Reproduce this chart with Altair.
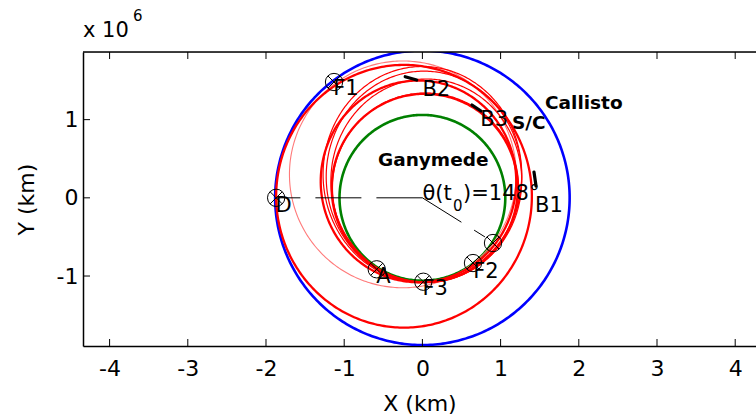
import altair as alt
import numpy as np
import pandas as pd

# ---------------- data (units: 1e6 km) ----------------
x_ticks = [-4, -3, -2, -1, 0, 1, 2, 3, 4]
y_ticks = [-1, 0, 1]
x_domain = [-4.34, 4.266]
y_domain = [-1.895, 1.865]

callisto_r = 1.883
ganymede_r = 1.06

# trajectory loops: centre and semi-axes
traj_cx = [-0.235, 0.00, 0.02, -0.05, 0.03, 0.04, 0.05, -0.25]
traj_cy = [0.02, 0.30, 0.27, 0.21, 0.125, 0.13, 0.22, 0.30]
traj_a = [1.635, 1.27, 1.25, 1.25, 1.19, 1.19, 1.22, 1.45]
traj_b = [1.68, 1.38, 1.35, 1.29, 1.205, 1.21, 1.30, 1.45]
traj_kind = ["thick", "thin", "thin", "thick", "thick", "thin", "thin", "light"]

# event markers
mk_x = [-1.13, -1.87, -0.584, 0.012, 0.647, 0.903]
mk_y = [1.481, 0.0, -0.914, -1.073, -0.834, -0.578]

# labels
lab_text = ["F1", "B2", "B3", "B1", "D", "A", "F3", "F2"]
lab_x = [-1.14, 0.0, 0.74, 1.44, -1.88, -0.59, 0.0, 0.65]
lab_y = [1.39, 1.38, 0.995, -0.105, -0.105, -1.013, -1.166, -0.949]

bold_text = ["Callisto", "Ganymede", "S/C"]
bold_x = [1.568, -0.568, 1.146]
bold_y = [1.212, 0.483, 0.963]

theta_text = ["θ(t", ")=148°"]
theta_x = [0.0, 0.52]
theta_y = [0.05, 0.05]
theta_sub = ["0"]
theta_sub_x = [0.39]
theta_sub_y = [-0.105]

# black coast arcs B1, B2, B3
arc_id = ["B2", "B2", "B3", "B3", "B1", "B1"]
arc_x = [-0.22, -0.073, 0.634, 0.749, 1.427, 1.453]
arc_y = [1.549, 1.506, 1.187, 1.110, 0.330, 0.151]

# dashed reference lines (origin -> D, origin -> theta direction)
ref_id = ["D", "D", "T", "T"]
ref_x = [0.0, -1.87, 0.0, 0.80]
ref_y = [0.0, 0.0, 0.0, -0.50]

# ---------------- tables ----------------
t = np.linspace(0, 2 * np.pi, 361)


def circle(r, name):
    return pd.DataFrame({"x": r * np.cos(t), "y": r * np.sin(t), "curve": name, "i": np.arange(len(t))})


blue_df = circle(callisto_r, "callisto")
green_df = circle(ganymede_r, "ganymede")

rows = []
for k in range(len(traj_cx)):
    rows.append(pd.DataFrame({
        "x": traj_cx[k] + traj_a[k] * np.cos(t),
        "y": traj_cy[k] + traj_b[k] * np.sin(t),
        "curve": f"c{k}", "kind": traj_kind[k], "i": np.arange(len(t))}))
traj_df = pd.concat(rows, ignore_index=True)

mk_df = pd.DataFrame({"x": mk_x, "y": mk_y})
lab_df = pd.DataFrame({"x": lab_x, "y": lab_y, "t": lab_text})
bold_df = pd.DataFrame({"x": bold_x, "y": bold_y, "t": bold_text})
theta_df = pd.DataFrame({"x": theta_x, "y": theta_y, "t": theta_text})
theta_sub_df = pd.DataFrame({"x": theta_sub_x, "y": theta_sub_y, "t": theta_sub})
arc_df = pd.DataFrame({"x": arc_x, "y": arc_y, "id": arc_id, "i": list(range(len(arc_x)))})
ref_df = pd.DataFrame({"x": ref_x, "y": ref_y, "id": ref_id, "i": list(range(len(ref_x)))})
xt_df = pd.DataFrame({"x": x_ticks * 2, "y": [y_domain[1]] * len(x_ticks) + [y_domain[0]] * len(x_ticks)})
yt_df = pd.DataFrame({"x": [x_domain[0]] * len(y_ticks), "y": y_ticks})

FONT = "DejaVu Sans"
xs = alt.Scale(domain=x_domain, nice=False, zero=False)
ys = alt.Scale(domain=y_domain, nice=False, zero=False)

x_axis = alt.Axis(values=x_ticks, tickSize=0, labelPadding=12, labelFontSize=22, labelFont=FONT,
                  labelColor="black", domainColor="black", domainWidth=1.5, grid=False,
                  labelExpr="'' + datum.value",
                  title="X (km)", titleFont=FONT, titleFontSize=22, titleFontWeight="normal",
                  titleColor="black", titleY=57, titleBaseline="middle", labelFlush=False)
y_axis = alt.Axis(values=y_ticks, tickSize=0, labelPadding=5, labelFontSize=22, labelFont=FONT,
                  labelColor="black", domainColor="black", domainWidth=1.5, grid=False,
                  labelExpr="'' + datum.value",
                  title="Y (km)", titleFont=FONT, titleFontSize=22, titleFontWeight="normal",
                  titleColor="black", titleX=-57, titleY=147, titleAngle=270, titleBaseline="middle",
                  titleAlign="center", labelFlush=False)

X = alt.X("x:Q", scale=xs, axis=x_axis)
Y = alt.Y("y:Q", scale=ys, axis=y_axis)

base = alt.Chart(blue_df).mark_line(color="#0000ff", strokeWidth=2.6, clip=True).encode(x=X, y=Y, order="i:Q")

green = alt.Chart(green_df).mark_line(color="#008000", strokeWidth=2.6, clip=True).encode(x=X, y=Y, order="i:Q")

light = alt.Chart(traj_df).transform_filter(alt.datum.kind == "light").mark_line(
    color="#ff7a7a", strokeWidth=1.1, clip=True).encode(x=X, y=Y, detail="curve:N", order="i:Q")
thin = alt.Chart(traj_df).transform_filter(alt.datum.kind == "thin").mark_line(
    color="#ff0000", strokeWidth=1.2, clip=True).encode(x=X, y=Y, detail="curve:N", order="i:Q")
thick = alt.Chart(traj_df).transform_filter(alt.datum.kind == "thick").mark_line(
    color="#ff0000", strokeWidth=2.3, clip=True).encode(x=X, y=Y, detail="curve:N", order="i:Q")

refl = alt.Chart(ref_df).mark_line(color="black", strokeWidth=1, strokeDash=[46, 15]).encode(
    x=X, y=Y, detail="id:N", order="i:Q")

arcs = alt.Chart(arc_df).mark_line(color="black", strokeWidth=3.2, strokeCap="round").encode(
    x=X, y=Y, detail="id:N", order="i:Q")

mk_circ = alt.Chart(mk_df).mark_point(shape="circle", size=300, color="black", filled=False,
                                      strokeWidth=1, opacity=1).encode(x=X, y=Y)
mk_x_ = alt.Chart(mk_df).mark_point(shape="M-0.7,-0.7L0.7,0.7M-0.7,0.7L0.7,-0.7", size=300,
                                    color="black", filled=False, strokeWidth=1, opacity=1).encode(x=X, y=Y)

labels = alt.Chart(lab_df).mark_text(font=FONT, fontSize=21, align="left", baseline="middle",
                                     color="black").encode(x=X, y=Y, text="t:N")
bolds = alt.Chart(bold_df).mark_text(font=FONT, fontSize=18.5, fontWeight="bold", align="left",
                                     baseline="middle", color="black").encode(x=X, y=Y, text="t:N")
theta = alt.Chart(theta_df).mark_text(font=FONT, fontSize=21, align="left", baseline="middle",
                                      color="black").encode(x=X, y=Y, text="t:N")
theta_s = alt.Chart(theta_sub_df).mark_text(font=FONT, fontSize=15, align="left", baseline="middle",
                                            color="black").encode(x=X, y=Y, text="t:N")

top_line = alt.Chart(pd.DataFrame({"y": [y_domain[1]]})).mark_rule(color="black", strokeWidth=1.5).encode(y=Y)
xt = alt.Chart(xt_df).mark_tick(orient="vertical", size=14, thickness=1, color="black", clip=True,
                                opacity=1).encode(x=X, y=Y)
yt = alt.Chart(yt_df).mark_tick(orient="horizontal", size=14, thickness=1, color="black", clip=True,
                                opacity=1).encode(x=X, y=Y)

exp_df = pd.DataFrame({"t": ["x 10"]})
exp = alt.Chart(exp_df).mark_text(font=FONT, fontSize=21, align="left", baseline="alphabetic",
                                  color="black").encode(x=alt.value(0), y=alt.value(-15), text="t:N")
exp6_df = pd.DataFrame({"t": ["6"]})
exp6 = alt.Chart(exp6_df).mark_text(font=FONT, fontSize=15, align="left", baseline="middle",
                                    color="black").encode(x=alt.value(50), y=alt.value(-36), text="t:N")

chart = alt.layer(base, green, light, thin, thick, refl, arcs, mk_circ, mk_x_, labels, bolds, theta,
                  theta_s, top_line, xt, yt, exp, exp6).properties(
    width=673, height=294,
    autosize=alt.AutoSizeParams(type="none"),
    padding={"left": 83, "top": 52, "right": 0, "bottom": 73},
).configure_view(stroke=None).configure(background="white")

chart.save("out.html", embed_options={"renderer": "svg", "actions": False})
